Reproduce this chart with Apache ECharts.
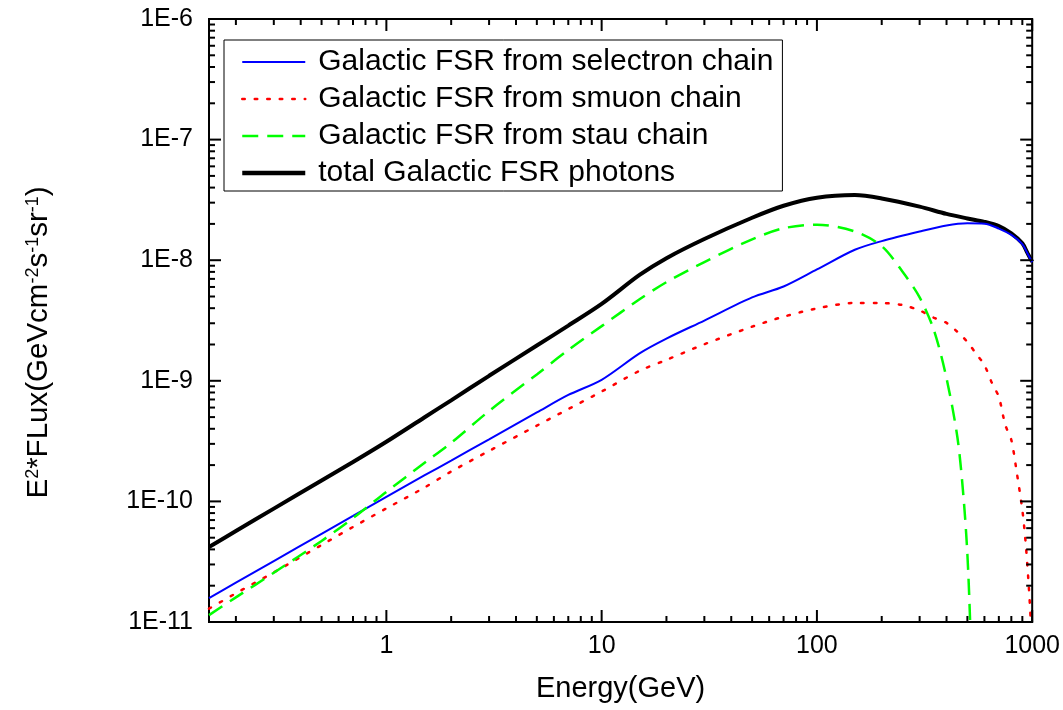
<!DOCTYPE html>
<html>
<head>
<meta charset="utf-8">
<script src="https://cdn.jsdelivr.net/npm/echarts@6/dist/echarts.min.js"></script>
<style>
html,body{margin:0;padding:0;background:#fff;}
#chart{width:1063px;height:710px;}
#err{position:absolute;left:300px;top:420px;font:12px monospace;color:#900;white-space:pre;}
</style>
</head>
<body>
<div id="chart"></div>
<div id="err"></div>
<script>
window.onerror = function (m) { document.getElementById('err').textContent += m + '\n'; };
// ---- data ----
const seriesNames = [
  'Galactic FSR from selectron chain',
  'Galactic FSR from smuon chain',
  'Galactic FSR from stau chain',
  'total Galactic FSR photons'
];

const energySelectron = [0.15,0.2,0.3,0.5,0.7,1,1.5,2,3,5,7,10,15,20,30,50,70,100,150,200,300,400,500,600,700,800,900,950,1000];
const fluxSelectron = [1.58e-11,2.12e-11,3.20e-11,5.38e-11,7.57e-11,1.09e-10,1.64e-10,2.18e-10,3.27e-10,5.46e-10,7.63e-10,1.02e-9,1.69e-9,2.24e-9,3.16e-9,4.91e-9,6.05e-9,8.38e-9,1.22e-8,1.44e-8,1.73e-8,1.94e-8,2.02e-8,2.01e-8,1.83e-8,1.62e-8,1.36e-8,1.14e-8,9.6e-9];

const energySmuon = [0.15,0.2,0.3,0.5,0.7,1,1.5,2,3,5,7,10,15,20,30,50,70,100,150,200,250,300,350,400,450,500,550,600,650,700,750,800,850,900,930,960,985,1000];
const fluxSmuon = [1.29e-11,1.73e-11,2.58e-11,4.35e-11,6.14e-11,8.75e-11,1.30e-10,1.77e-10,2.62e-10,4.25e-10,5.83e-10,8.15e-10,1.21e-9,1.49e-9,2.01e-9,2.81e-9,3.40e-9,3.98e-9,4.42e-9,4.41e-9,4.25e-9,3.83e-9,3.33e-9,3.02e-9,2.54e-9,2.10e-9,1.67e-9,1.35e-9,9.59e-10,7.34e-10,4.30e-10,3.23e-10,1.69e-10,8.49e-11,4.79e-11,2.23e-11,1.0e-11,4e-12];

const energyStau = [0.15,0.2,0.3,0.5,0.7,1,1.5,2,3,5,7,10,15,20,30,50,70,100,150,200,250,300,350,400,450,480,500,515,525];
const fluxStau = [1.14e-11,1.60e-11,2.56e-11,4.70e-11,7.27e-11,1.20e-10,2.08e-10,3.06e-10,5.62e-10,1.13e-9,1.80e-9,2.84e-9,4.74e-9,6.58e-9,9.66e-9,1.49e-8,1.84e-8,1.97e-8,1.73e-8,1.31e-8,8.02e-9,4.92e-9,2.61e-9,1.05e-9,3.34e-10,1.07e-10,3.65e-11,1.0e-11,3e-12];

const energyTotal = [0.15,0.2,0.3,0.5,0.7,1,1.5,2,3,5,7,10,15,20,30,50,70,100,150,200,300,400,500,600,700,800,900,950,1000];
const fluxTotal = [4.19e-11,5.68e-11,8.71e-11,1.49e-10,2.12e-10,3.12e-10,4.96e-10,6.89e-10,1.10e-9,1.96e-9,2.87e-9,4.34e-9,7.54e-9,1.04e-8,1.50e-8,2.25e-8,2.83e-8,3.30e-8,3.47e-8,3.25e-8,2.78e-8,2.42e-8,2.22e-8,2.08e-8,1.92e-8,1.67e-8,1.38e-8,1.15e-8,9.7e-9];

// axis ranges and tick positions
const xMin = 0.15, xMax = 1000;
const yMin = 1e-11, yMax = 1e-6;
const xMajorTicks = [1, 10, 100, 1000];
const xMinorTicks = [];
[0.1, 1, 10, 100].forEach(d => { for (let k = 2; k <= 9; k++) { const v = +(k * d).toPrecision(3); if (v >= xMin) xMinorTicks.push(v); } });
const yMajorTicks = [1e-11, 1e-10, 1e-9, 1e-8, 1e-7, 1e-6];
const yMinorTicks = [];
[-11, -10, -9, -8, -7].forEach(e => { for (let k = 2; k <= 9; k++) yMinorTicks.push(+(k + 'e' + e)); });

// ---- build ----
const zip = (xs, ys) => xs.map((x, i) => [x, ys[i]]);
const FONT = '"Liberation Sans", Arial, sans-serif';

// tick marks: [x, y, kind]  kind 0 = x major, 1 = x minor, 2 = y major, 3 = y minor
const tickData = [];
xMajorTicks.forEach(v => tickData.push([v, 1e-9, 0]));
xMinorTicks.forEach(v => tickData.push([v, 1e-9, 1]));
yMajorTicks.forEach(v => tickData.push([1, v, 2]));
yMinorTicks.forEach(v => tickData.push([1, v, 3]));

function renderTicks(params, api) {
  try {
    const kind = Math.round(api.value(2));
    const bl = api.coord([xMin, yMin]);
    const tr = api.coord([xMax, yMax]);
    const major = (kind === 0 || kind === 2);
    const len = major ? 12 : 6;
    if (kind < 2) {
      const px = api.coord([api.value(0), yMin])[0];
      return { type: 'group', children: [
        { type: 'line', shape: { x1: px, y1: bl[1], x2: px, y2: bl[1] - len }, style: { stroke: '#000', lineWidth: 2 } },
        { type: 'line', shape: { x1: px, y1: tr[1], x2: px, y2: tr[1] + len }, style: { stroke: '#000', lineWidth: 2 } }
      ]};
    } else {
      const py = api.coord([xMin, api.value(1)])[1];
      return { type: 'group', children: [
        { type: 'line', shape: { x1: bl[0], y1: py, x2: bl[0] + len, y2: py }, style: { stroke: '#000', lineWidth: 2 } },
        { type: 'line', shape: { x1: tr[0], y1: py, x2: tr[0] - len, y2: py }, style: { stroke: '#000', lineWidth: 2 } }
      ]};
    }
  } catch (e) {
    document.getElementById('err').textContent += 'render: ' + e.message + '\n';
  }
}

const isDecade = v => Math.abs(Math.log10(v) - Math.round(Math.log10(v))) < 1e-6;

const legendData = [
  { name: seriesNames[0], lineStyle: { width: 2 } },
  { name: seriesNames[1], lineStyle: { width: 2.5 } },
  { name: seriesNames[2], lineStyle: { width: 2.5 } },
  { name: seriesNames[3], lineStyle: { width: 4.5 } }
];

const chart = echarts.init(document.getElementById('chart'), null, { renderer: 'canvas' });
chart.setOption({
  backgroundColor: '#fff',
  animation: false,
  textStyle: { fontFamily: FONT },
  grid: { left: 209, right: 30, top: 19, bottom: 88, show: true, borderColor: '#000', borderWidth: 2 },
  legend: {
    data: legendData,
    orient: 'vertical',
    left: 224, top: 40,
    padding: [7, 9, 3, 16],
    itemGap: 7,
    itemWidth: 63, itemHeight: 14,
    backgroundColor: '#fff',
    borderColor: '#000', borderWidth: 1,
    itemStyle: { opacity: 0 },
    textStyle: { fontSize: 30, color: '#000', fontFamily: FONT, lineHeight: 30, padding: [0, 0, 0, 8] }
  },
  xAxis: {
    type: 'log', logBase: 10, min: xMin, max: xMax,
    axisLine: { lineStyle: { color: '#000', width: 2 } },
    axisTick: { show: false },
    splitLine: { show: false },
    axisLabel: {
      fontSize: 25, color: '#000', margin: 12, fontFamily: FONT,
      formatter: v => isDecade(v) ? String(Math.round(v)) : ''
    },
    name: 'Energy(GeV)', nameLocation: 'middle', nameGap: 52,
    nameTextStyle: { fontSize: 29, color: '#000', fontFamily: FONT }
  },
  yAxis: {
    type: 'log', logBase: 10, min: yMin, max: yMax,
    axisLine: { lineStyle: { color: '#000', width: 2 } },
    axisTick: { show: false },
    splitLine: { show: false },
    axisLabel: {
      fontSize: 25, color: '#000', margin: 16, fontFamily: FONT,
      formatter: v => '1E' + Math.round(Math.log10(v))
    },
    name: 'E{sup|2}*FLux(GeVcm{sup|-2}s{sup|-1}sr{sup|-1})',
    nameLocation: 'middle', nameGap: 155,
    nameTextStyle: {
      fontSize: 29.5, color: '#000', fontFamily: FONT, padding: [0, 44, 0, 0],
      rich: { sup: { fontSize: 18, color: '#000', fontFamily: FONT, verticalAlign: 'top' } }
    }
  },
  series: [
    { name: seriesNames[0], type: 'line', data: zip(energySelectron, fluxSelectron), showSymbol: false, symbol: 'none', smooth: 0.3,
      lineStyle: { color: '#0000ff', width: 2 }, itemStyle: { color: '#0000ff' }, z: 3 },
    { name: seriesNames[1], type: 'line', data: zip(energySmuon, fluxSmuon), showSymbol: false, symbol: 'none', smooth: 0.3,
      lineStyle: { color: '#ff0000', width: 2.5, type: [2.5, 10], cap: 'round' }, itemStyle: { color: '#ff0000' }, z: 3 },
    { name: seriesNames[2], type: 'line', data: zip(energyStau, fluxStau), showSymbol: false, symbol: 'none', smooth: 0.3,
      lineStyle: { color: '#00ff00', width: 2.5, type: [16, 9] }, itemStyle: { color: '#00ff00' }, z: 3 },
    { name: seriesNames[3], type: 'line', data: zip(energyTotal, fluxTotal), showSymbol: false, symbol: 'none', smooth: 0.3,
      lineStyle: { color: '#000', width: 4 }, itemStyle: { color: '#000' }, z: 2 },
    { name: 'ticks', type: 'custom', data: tickData, renderItem: renderTicks,
      dimensions: ['x', 'y', 'kind'], encode: { x: 0, y: 1 }, clip: false, silent: true, z: 4 }
  ]
});
</script>
</body>
</html>
